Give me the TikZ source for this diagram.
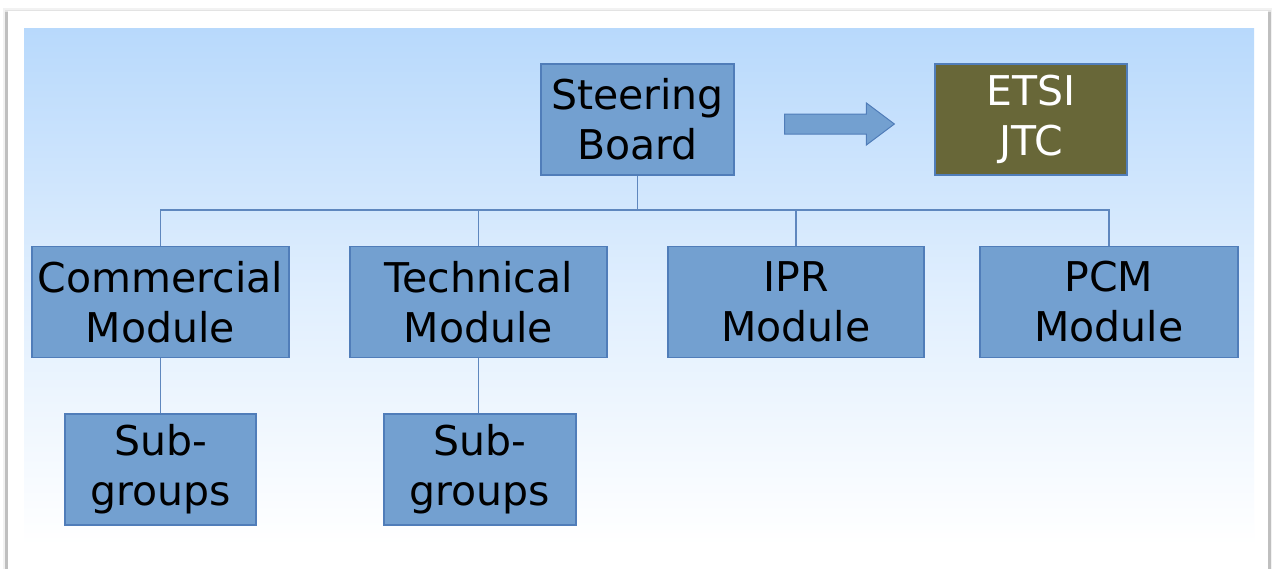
\documentclass[tikz,border=0pt]{standalone}
\usepackage{fontspec}
\setmainfont{DejaVu Sans}
\usetikzlibrary{calc}
\definecolor{boxfill}{RGB}{115,160,208}
\definecolor{boxline}{RGB}{80,125,185}
\definecolor{linkcol}{RGB}{95,135,190}
\definecolor{olive}{RGB}{104,103,56}
\definecolor{skytop}{RGB}{184,217,252}
\tikzset{
  orgbox/.style={draw=boxline, line width=1.2pt, fill=boxfill, align=center,
    font=\fontsize{41}{50}\selectfont, text=black, inner sep=0pt},
  etsibox/.style={orgbox, fill=olive, text=white},
  link/.style={draw=linkcol, line width=1.4pt},
}
\begin{document}
\begin{tikzpicture}[x=1pt, y=-1pt]
\useasboundingbox (0,0) rectangle (1272,568);
% page frame with soft shadow on its sides
\fill[gray!10] (3,8) rectangle (1272,570);
\fill[gray!22] (4.5,9.5) rectangle (1271,570);
\fill[gray!50] (5,12) rectangle (7.5,570);
\fill[gray!50] (1268,12) rectangle (1270.5,570);
\fill[white] (7.5,11) rectangle (1268,570);
% sky panel
\shade[top color=skytop, bottom color=white, middle color=skytop!45!white]
  (24,28) rectangle (1254,545);
\fill[white] (24,545) rectangle (1254,568);

% boxes
\node[orgbox, minimum width=193pt, minimum height=111pt] (sb) at (637.5,119.5) {Steering\\Board};
\node[etsibox, minimum width=192pt, minimum height=111pt] (etsi) at (1031,119.5) {ETSI\\JTC};
\node[orgbox, minimum width=257pt, minimum height=111pt] (com) at (160.5,302) {Commercial\\Module};
\node[orgbox, minimum width=257pt, minimum height=111pt] (tech) at (478.5,302) {Technical\\Module};
\node[orgbox, minimum width=256pt, minimum height=111pt] (ipr) at (796,302) {IPR\\Module};
\node[orgbox, minimum width=258pt, minimum height=111pt] (pcm) at (1109,302) {PCM\\Module};
\node[orgbox, minimum width=191pt, minimum height=111pt] (sg1) at (160.5,469.5) {Sub-\\groups};
\node[orgbox, minimum width=192pt, minimum height=111pt] (sg2) at (480,469.5) {Sub-\\groups};

% tree connectors
\coordinate (bus) at (0,210);
\draw[link] (sb.south) -- (sb.south |- bus);
\draw[link] (com.north) -- (com.north |- bus) -- (pcm.north |- bus) -- (pcm.north);
\draw[link] (tech.north) -- (tech.north |- bus);
\draw[link] (ipr.north) -- (ipr.north |- bus);
\draw[link] (com.south) -- (com.south |- sg1.north);
\draw[link] (tech.south) -- (tech.south |- sg2.north);

% block arrow from the board towards ETSI
\coordinate (tail) at ($(sb.east)+(50,4.5)$);
\coordinate (tip) at ($(etsi.west)+(-40,4.5)$);
\fill[boxfill, draw=boxline, line width=1pt]
  ($(tail)+(0,-10)$) -- ($(tip)+(-28,-10)$) -- ($(tip)+(-28,-21)$) -- (tip)
  -- ($(tip)+(-28,21)$) -- ($(tip)+(-28,10)$) -- ($(tail)+(0,10)$) -- cycle;
\end{tikzpicture}
\end{document}
